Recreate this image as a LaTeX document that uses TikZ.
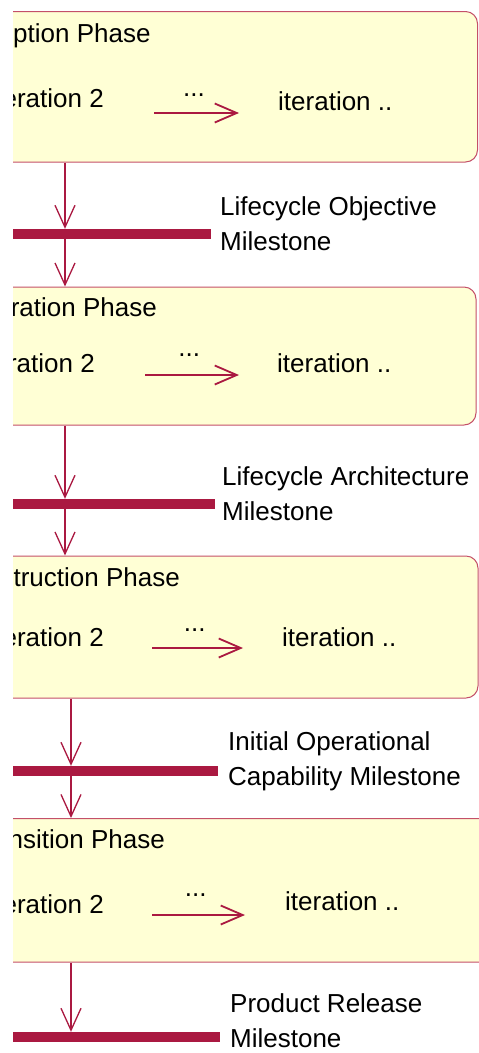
\documentclass[tikz,border=0pt]{standalone}
\usepackage{fontspec}
\setmainfont{Liberation Sans}
\usetikzlibrary{arrows.meta}

\definecolor{granate}{RGB}{170,25,65}
\definecolor{bordeFase}{RGB}{196,80,105}
\definecolor{fondoFase}{RGB}{255,255,213}

\begin{document}
\begin{tikzpicture}[
    x=1pt, y=-1pt,
    % Estilo para las cajas de fase
    fase/.style={
        draw=bordeFase,
        fill=fondoFase,
        line width=1pt,
        rounded corners=12pt,
        inner sep=0pt
    },
    % Estilo para las barras de hito
    hito/.style={
        fill=granate,
        inner sep=0pt,
        minimum height=10pt
    },
    % Estilo para los textos
    texto/.style={
        inner sep=0pt,
        font=\fontsize{26}{35}\selectfont,
        align=left
    },
    % Flecha vertical entre fase e hito
    flechaHito/.style={
        -{Straight Barb[length=22pt,width=20pt]},
        line width=1.3pt,
        color=granate
    },
    % Flecha entre iteraciones
    flechaIter/.style={
        -{Straight Barb[length=22pt,width=19pt]},
        line width=1.8pt,
        color=granate
    }
]
    \useasboundingbox (0,0) rectangle (479,1053);
    \clip (13,0) rectangle (479,1053);

    % --- CAJAS DE FASE ---
    \node[fase, minimum width=627.5pt, minimum height=150.5pt] (fase1) at (163.75,86.75) {};
    \node[fase, minimum width=626pt,   minimum height=138pt]   (fase2) at (163,356) {};
    \node[fase, minimum width=628pt,   minimum height=142pt]   (fase3) at (164,627) {};
    \node[fase, minimum width=645pt,   minimum height=143.5pt] (fase4) at (172.5,890.25) {};

    % --- TITULOS DE FASE ---
    \node[texto, anchor=base west] (tit1) at (13,42)   {ption Phase};
    \node[texto, anchor=base east] (tit2) at (157,316) {ration Phase};
    \node[texto, anchor=base east] (tit3) at (180,586) {truction Phase};
    \node[texto, anchor=base east] (tit4) at (165,848) {nsition Phase};

    % --- ITERACIONES ---
    \node[texto, anchor=base east] (itA1) at (104,107) {eration 2};
    \node[texto, anchor=base west] (itB1) at (278,110) {iteration ..};
    \node[texto, anchor=base east] (itA2) at (95,372)  {ration 2};
    \node[texto, anchor=base west] (itB2) at (277,372) {iteration ..};
    \node[texto, anchor=base east] (itA3) at (104,646) {eration 2};
    \node[texto, anchor=base west] (itB3) at (282,646) {iteration ..};
    \node[texto, anchor=base east] (itA4) at (104,913) {eration 2};
    \node[texto, anchor=base west] (itB4) at (285,910) {iteration ..};

    % --- FLECHAS ENTRE ITERACIONES ---
    \coordinate (ini1) at (154,113); \coordinate (fin1) at (239,113);
    \coordinate (ini2) at (145,375); \coordinate (fin2) at (239,375);
    \coordinate (ini3) at (152,648); \coordinate (fin3) at (243,648);
    \coordinate (ini4) at (152,915); \coordinate (fin4) at (245,915);
    \foreach \i/\dy in {1/17,2/19,3/17,4/19}{
        \draw[flechaIter] (ini\i) -- node[texto, pos=0.47, anchor=base, yshift=\dy pt, text=black] {...} (fin\i);
    }

    % --- BARRAS DE HITO ---
    \node[hito, minimum width=231pt] (hito1) at (95.5,234) {};
    \node[hito, minimum width=235pt] (hito2) at (97.5,504) {};
    \node[hito, minimum width=238pt] (hito3) at (99,771) {};
    \node[hito, minimum width=240pt] (hito4) at (100,1037) {};

    % --- ETIQUETAS DE HITO (base en la ultima linea) ---
    \node[texto, anchor=base west] (hitoTxt1) at (220,250)  {Lifecycle Objective\\Milestone};
    \node[texto, anchor=base west] (hitoTxt2) at (222,520)  {Lifecycle Architecture\\Milestone};
    \node[texto, anchor=base west] (hitoTxt3) at (228,785)  {Initial Operational\\Capability Milestone};
    \node[texto, anchor=base west] (hitoTxt4) at (230,1047) {Product Release\\Milestone};

    % --- FLECHAS FASE -> HITO -> FASE ---
    \coordinate (ejeA) at (65,0);
    \coordinate (ejeB) at (71,0);
    \draw[flechaHito] (fase1.south -| ejeA) -- (hito1.north -| ejeA);
    \draw[flechaHito] (hito1.south -| ejeA) -- (fase2.north -| ejeA);
    \draw[flechaHito] (fase2.south -| ejeA) -- (hito2.north -| ejeA);
    \draw[flechaHito] (hito2.south -| ejeA) -- (fase3.north -| ejeA);
    \draw[flechaHito] (fase3.south -| ejeB) -- (hito3.north -| ejeB);
    \draw[flechaHito] (hito3.south -| ejeB) -- (fase4.north -| ejeB);
    \draw[flechaHito] (fase4.south -| ejeB) -- (hito4.north -| ejeB);

\end{tikzpicture}
\end{document}
